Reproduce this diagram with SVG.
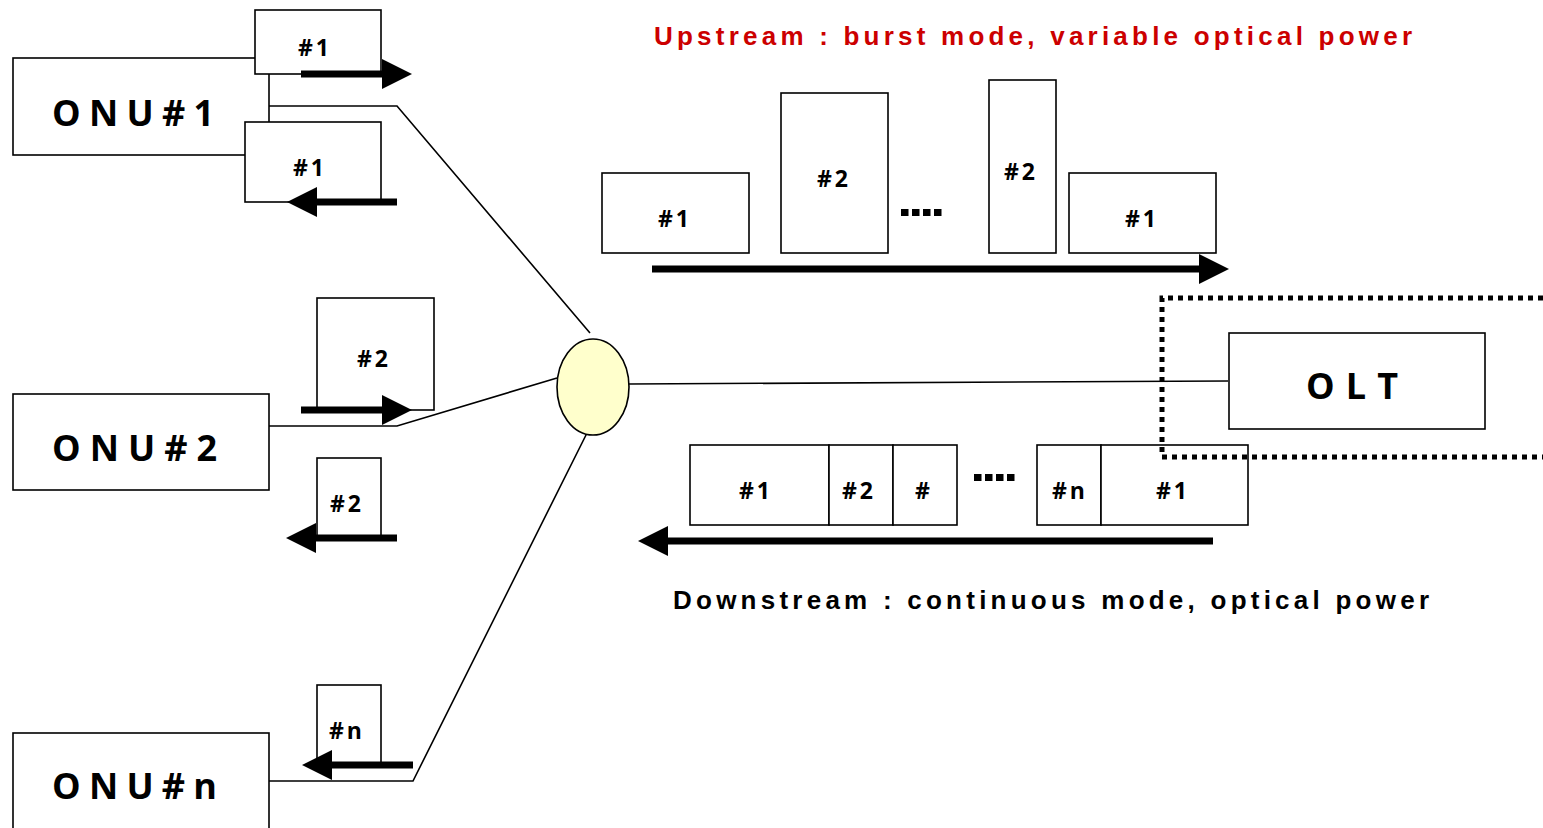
<svg xmlns="http://www.w3.org/2000/svg" width="1543" height="828" viewBox="0 0 1543 828">
  <style>
    .box { fill: #ffffff; stroke: #000000; stroke-width: 1.6; }
    .frame { fill: #ffffff; stroke: #000000; stroke-width: 1.6; }
    .wire { fill: none; stroke: #000000; stroke-width: 1.6; }
    .bar { fill: none; stroke: #000000; stroke-width: 7; }
    .dots { fill: #000000; }
    .big { font-family: "Open Sans", "Liberation Sans", sans-serif; font-weight: bold; font-size: 36px; fill: #000000; }
    .lbl { font-family: "Open Sans", "Liberation Sans", sans-serif; font-weight: bold; font-size: 23px; fill: #000000; text-anchor: middle; letter-spacing: 3px; }
    .title { font-family: "Liberation Sans", Arial, sans-serif; font-weight: bold; font-size: 26px; }
  </style>
  <defs>
    <marker id="head" viewBox="0 0 30 30" refX="0" refY="15" markerWidth="30" markerHeight="30" markerUnits="userSpaceOnUse" orient="auto">
      <path d="M0,0 L30,15 L0,30 Z" fill="#000000"/>
    </marker>
  </defs>

  <rect width="1543" height="828" fill="#ffffff"/>

  <!-- titles -->
  <text class="title" x="654" y="45" fill="#cc0000" textLength="758" lengthAdjust="spacing">Upstream : burst mode, variable optical power</text>
  <text class="title" x="673" y="609" fill="#000000" font-size="25" textLength="756" lengthAdjust="spacing">Downstream : continuous mode, optical power</text>

  <!-- fibre connectors -->
  <g id="connectors">
    <polyline class="wire" points="269,106 397,106 590,333"/>
    <polyline class="wire" points="269,426 397,426 557,378"/>
    <polyline class="wire" points="269,781 413,781 589,429"/>
    <line class="wire" x1="629" y1="384" x2="1228" y2="381"/>
  </g>

  <!-- ONU #1 with its upstream and downstream frames -->
  <g id="onu1">
    <rect class="box" x="13" y="58" width="256" height="97"/>
    <text class="big" x="52" y="126" textLength="162" lengthAdjust="spacing">ONU#1</text>
    <rect class="frame" x="255" y="10" width="126" height="64"/>
    <text class="lbl" x="315" y="56">#1</text>
    <line class="bar" x1="301" y1="74" x2="382" y2="74" marker-end="url(#head)"/>
    <rect class="frame" x="245" y="122" width="136" height="80"/>
    <text class="lbl" x="310" y="176">#1</text>
    <line class="bar" x1="397" y1="202" x2="317" y2="202" marker-end="url(#head)"/>
  </g>

  <!-- ONU #2 -->
  <g id="onu2">
    <rect class="box" x="13" y="394" width="256" height="96"/>
    <text class="big" x="52" y="461" textLength="165" lengthAdjust="spacing">ONU#2</text>
    <rect class="frame" x="317" y="298" width="117" height="112"/>
    <text class="lbl" x="374" y="367" font-size="25">#2</text>
    <line class="bar" x1="301" y1="410" x2="382" y2="410" marker-end="url(#head)"/>
    <rect class="frame" x="317" y="458" width="64" height="80"/>
    <text class="lbl" x="347" y="512" font-size="24">#2</text>
    <line class="bar" x1="397" y1="538" x2="316" y2="538" marker-end="url(#head)"/>
  </g>

  <!-- ONU #n -->
  <g id="onun">
    <rect class="box" x="13" y="733" width="256" height="110"/>
    <text class="big" x="52" y="799" textLength="165" lengthAdjust="spacing">ONU#n</text>
    <rect class="frame" x="317" y="685" width="64" height="80"/>
    <text class="lbl" x="347" y="739" font-size="24">#n</text>
    <line class="bar" x1="413" y1="765" x2="332" y2="765" marker-end="url(#head)"/>
  </g>

  <!-- passive splitter -->
  <g id="splitter">
    <ellipse cx="593" cy="387" rx="36" ry="48" fill="#ffffcc" stroke="#000000" stroke-width="1.6"/>
  </g>

  <!-- upstream burst frames -->
  <g id="upstream">
    <rect class="frame" x="602" y="173" width="147" height="80"/>
    <text class="lbl" x="675" y="227">#1</text>
    <rect class="frame" x="781" y="93" width="107" height="160"/>
    <text class="lbl" x="834" y="187">#2</text>
    <rect class="dots" x="901" y="209" width="7.5" height="7"/>
    <rect class="dots" x="912" y="209" width="7.5" height="7"/>
    <rect class="dots" x="923" y="209" width="7.5" height="7"/>
    <rect class="dots" x="934" y="209" width="7.5" height="7"/>
    <rect class="frame" x="989" y="80" width="67" height="173"/>
    <text class="lbl" x="1021" y="180">#2</text>
    <rect class="frame" x="1069" y="173" width="147" height="80"/>
    <text class="lbl" x="1142" y="227">#1</text>
    <line class="bar" x1="652" y1="269" x2="1199" y2="269" marker-end="url(#head)"/>
  </g>

  <!-- downstream continuous frames -->
  <g id="downstream">
    <rect class="frame" x="690" y="445" width="139" height="80"/>
    <rect class="frame" x="829" y="445" width="64" height="80"/>
    <rect class="frame" x="893" y="445" width="64" height="80"/>
    <text class="lbl" x="756" y="499">#1</text>
    <text class="lbl" x="859" y="499">#2</text>
    <text class="lbl" x="924" y="499">#</text>
    <rect class="dots" x="974" y="474" width="7.5" height="7"/>
    <rect class="dots" x="985" y="474" width="7.5" height="7"/>
    <rect class="dots" x="996" y="474" width="7.5" height="7"/>
    <rect class="dots" x="1007" y="474" width="7.5" height="7"/>
    <rect class="frame" x="1037" y="445" width="64" height="80"/>
    <rect class="frame" x="1101" y="445" width="147" height="80"/>
    <text class="lbl" x="1070" y="499">#n</text>
    <text class="lbl" x="1173" y="499">#1</text>
    <line class="bar" x1="1213" y1="541" x2="668" y2="541" marker-end="url(#head)"/>
  </g>

  <!-- OLT with its dotted enclosure, drawn over the downstream frames -->
  <g id="olt">
    <rect class="box" x="1229" y="333" width="256" height="96"/>
    <text class="big" x="1306" y="399" font-size="37" textLength="92" lengthAdjust="spacing">OLT</text>
    <path d="M1543,298 H1162 V457 H1543" fill="none" stroke="#000000" stroke-width="5" stroke-dasharray="5 5"/>
  </g>
</svg>
